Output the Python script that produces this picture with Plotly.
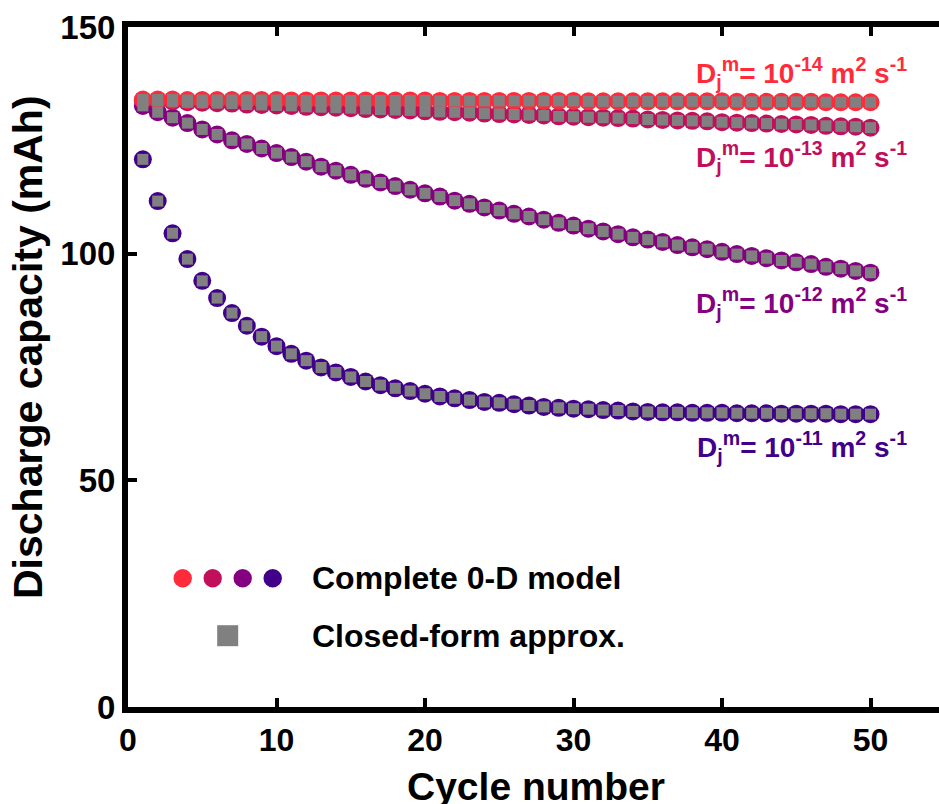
import plotly.graph_objects as go

cycles = list(range(1, 51))

cap_1e14 = [134.0, 134.0, 134.0, 133.9, 133.9, 133.9, 133.9, 133.9, 133.9, 133.9,
            133.8, 133.8, 133.8, 133.8, 133.8, 133.8, 133.8, 133.8, 133.8, 133.8,
            133.7, 133.7, 133.7, 133.7, 133.7, 133.7, 133.7, 133.7, 133.7, 133.7,
            133.6, 133.6, 133.6, 133.6, 133.6, 133.6, 133.6, 133.6, 133.6, 133.6,
            133.5, 133.5, 133.5, 133.5, 133.5, 133.5, 133.4, 133.4, 133.4, 133.4]

cap_1e13 = [133.8, 133.7, 133.6, 133.4, 133.3, 133.2, 133.1, 132.9, 132.8, 132.7,
            132.6, 132.4, 132.3, 132.2, 132.1, 131.9, 131.8, 131.7, 131.6, 131.4,
            131.3, 131.2, 131.1, 130.9, 130.8, 130.7, 130.6, 130.5, 130.3, 130.2,
            130.1, 130.0, 129.9, 129.8, 129.6, 129.5, 129.4, 129.3, 129.2, 129.0,
            128.9, 128.8, 128.7, 128.6, 128.5, 128.4, 128.2, 128.1, 128.0, 127.8]

cap_1e12 = [132.6, 131.2, 130.0, 128.8, 127.4, 126.3, 125.0, 124.2, 123.2, 122.2,
            121.3, 120.3, 119.2, 118.3, 117.4, 116.5, 115.7, 114.9, 114.1, 113.3,
            112.6, 111.7, 111.0, 110.2, 109.5, 108.8, 108.2, 107.5, 106.8, 106.2,
            105.5, 104.9, 104.3, 103.6, 103.1, 102.6, 101.9, 101.4, 101.0, 100.4,
            99.9, 99.5, 99.0, 98.5, 98.1, 97.7, 97.1, 96.7, 96.2, 95.8]

cap_1e11 = [120.8, 111.6, 104.5, 98.8, 94.0, 90.2, 86.9, 84.1, 81.7, 79.6,
            77.9, 76.4, 74.9, 73.8, 72.8, 71.8, 71.0, 70.3, 69.7, 69.1,
            68.5, 68.1, 67.7, 67.3, 67.1, 66.8, 66.5, 66.2, 66.0, 65.8,
            65.7, 65.5, 65.4, 65.2, 65.1, 65.0, 65.0, 64.9, 64.9, 64.9,
            64.8, 64.8, 64.8, 64.7, 64.7, 64.7, 64.7, 64.6, 64.6, 64.6]

# closed-form approximation (visually coincident with the full model)
approx_1e14 = cap_1e14
approx_1e13 = cap_1e13
approx_1e12 = cap_1e12
approx_1e11 = cap_1e11

series_labels = ["D<sub>j</sub><sup>m</sup>= 10<sup>-14</sup> m<sup>2</sup> s<sup>-1</sup>",
                 "D<sub>j</sub><sup>m</sup>= 10<sup>-13</sup> m<sup>2</sup> s<sup>-1</sup>",
                 "D<sub>j</sub><sup>m</sup>= 10<sup>-12</sup> m<sup>2</sup> s<sup>-1</sup>",
                 "D<sub>j</sub><sup>m</sup>= 10<sup>-11</sup> m<sup>2</sup> s<sup>-1</sup>"]
legend_labels = ["Complete 0-D model", "Closed-form approx."]
x_ticks = [0, 10, 20, 30, 40, 50]
y_ticks = [0, 50, 100, 150]

colors = ["#FF2B3B", "#C20F5C", "#850080", "#40008A"]
gray = "#808080"
FONT = "Liberation Sans, Arial, sans-serif"

W, H = 939, 804
ML, MR, MT, MB = 128, 0, 27, 97
PW, PH = W - ML - MR, H - MT - MB


def px(xp):
    return (xp - ML) / PW


def py(yp):
    return (H - MB - yp) / PH


fig = go.Figure()
models = [cap_1e11, cap_1e12, cap_1e13, cap_1e14]
approxs = [approx_1e11, approx_1e12, approx_1e13, approx_1e14]
cols = colors[::-1]
for vals, c in zip(models, cols):
    fig.add_trace(go.Scatter(x=cycles, y=vals, mode="markers",
                             marker=dict(symbol="circle", size=18, color=c, line=dict(width=0)),
                             showlegend=False, hoverinfo="skip"))
for vals in approxs:
    fig.add_trace(go.Scatter(x=cycles, y=vals, mode="markers",
                             marker=dict(symbol="square", size=11, color=gray, line=dict(width=0)),
                             showlegend=False, hoverinfo="skip"))

tick_style = dict(ticks="inside", ticklen=9, tickwidth=4, tickcolor="black",
                  showgrid=False, zeroline=False)

fig.update_layout(
    xaxis=dict(range=[0, (W - ML) / 14.85], tickvals=x_ticks,
               ticktext=["<b>%d</b>" % t for t in x_ticks],
               showline=True, linewidth=6, linecolor="black", mirror="ticks",
               tickfont=dict(family=FONT, size=32, color="black"), **tick_style),
    yaxis=dict(range=[0, 150], tickvals=y_ticks,
               ticktext=["<b>%d</b>" % t for t in y_ticks],
               showline=True, linewidth=6, linecolor="black", mirror=False,
               tickfont=dict(family=FONT, size=33, color="black"), **tick_style),
    yaxis2=dict(range=[0, 150], tickvals=y_ticks, overlaying="y", side="right",
                anchor="x", showline=False, showticklabels=False, **tick_style),
)

annotations = []
label_y = [73, 157, 303, 447]
for txt, c, yp in zip(series_labels, colors, label_y):
    annotations.append(dict(xref="paper", yref="paper", x=px(909), y=py(yp),
                            xanchor="right", yanchor="middle", showarrow=False,
                            text="<b>%s</b>" % txt,
                            font=dict(family=FONT, size=28, color=c)))

annotations.append(dict(xref="paper", yref="paper", x=px(310), y=py(578), xanchor="left",
                        yanchor="middle", showarrow=False, text="<b>%s</b>" % legend_labels[0],
                        font=dict(family=FONT, size=32, color="black")))
annotations.append(dict(xref="paper", yref="paper", x=px(310), y=py(636), xanchor="left",
                        yanchor="middle", showarrow=False, text="<b>%s</b>" % legend_labels[1],
                        font=dict(family=FONT, size=32, color="black")))

annotations.append(dict(xref="paper", yref="paper", x=px(536), y=py(786), xanchor="center",
                        yanchor="middle", showarrow=False, text="<b>Cycle number</b>",
                        font=dict(family=FONT, size=39, color="black")))
annotations.append(dict(xref="paper", yref="paper", x=px(28), y=py(347), xanchor="center",
                        yanchor="middle", showarrow=False, textangle=-90,
                        text="<b>Discharge capacity (mAh)</b>",
                        font=dict(family=FONT, size=41, color="black")))

shapes = []
for c, xc in zip(colors, [182.7, 212.7, 242.7, 272.7]):
    shapes.append(dict(type="circle", xref="paper", yref="paper", xsizemode="pixel",
                       ysizemode="pixel", xanchor=px(xc), yanchor=py(578.3),
                       x0=-9.2, x1=9.2, y0=-9.2, y1=9.2, fillcolor=c, line=dict(width=0)))
shapes.append(dict(type="rect", xref="paper", yref="paper", xsizemode="pixel",
                   ysizemode="pixel", xanchor=px(227.7), yanchor=py(635.7),
                   x0=-10.5, x1=10.5, y0=-10.5, y1=10.5, fillcolor=gray, line=dict(width=0)))

fig.update_layout(width=W, height=H, margin=dict(l=ML, r=MR, t=MT, b=MB, pad=0),
                  plot_bgcolor="white", paper_bgcolor="white",
                  font=dict(family=FONT, color="black"),
                  annotations=annotations, shapes=shapes, showlegend=False)

fig.write_html("out.html")
